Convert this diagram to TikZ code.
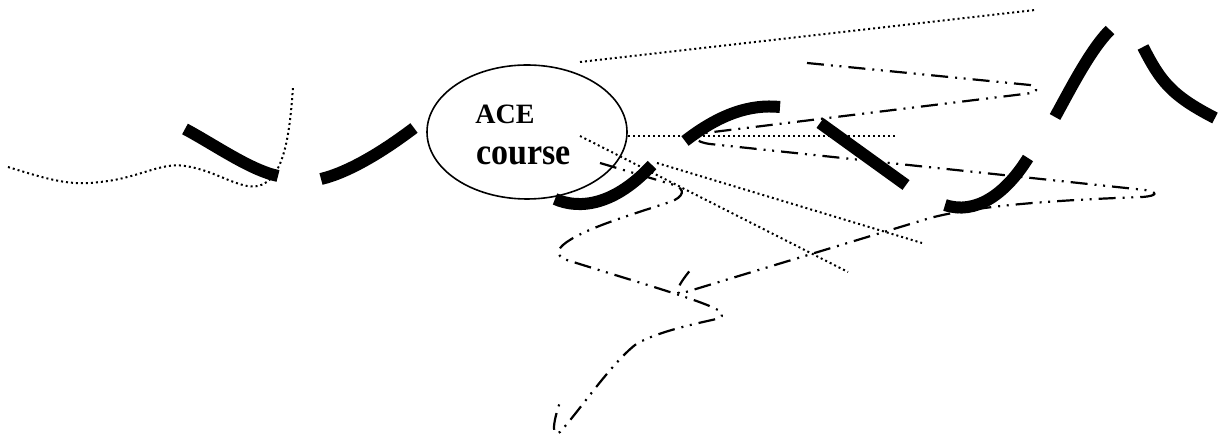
\documentclass[tikz,border=0pt]{standalone}
\usepackage{fontspec}
\newfontfamily\acefont{Liberation Serif}
\usepackage{tikz}
\usetikzlibrary{shapes.geometric}

\begin{document}
\begin{tikzpicture}[x=0.5pt, y=-0.5pt,
    barline/.style={line width=6pt},
    dotline/.style={line width=1pt, dash pattern=on 1pt off 1.5pt},
    dddline/.style={line width=1.1pt, dash pattern=on 8.5pt off 3.5pt on 1pt off 3.3pt on 1pt off 3.5pt}]
    \useasboundingbox (0,0) rectangle (1221,437);

    \node[draw, ellipse, line width=0.8pt, minimum width=100pt, minimum height=67pt, inner sep=0pt] (ace) at (527,132) {};
    \node[anchor=base west, inner sep=0pt, font=\acefont\bfseries\fontsize{14}{15}\selectfont] (acename) at (475,124) {ACE};
    \node[anchor=base west, inner sep=0pt, font=\acefont\bfseries\fontsize{17}{18}\selectfont] (acecourse) at (476,165) {\scalebox{1}[1.1]{course}};

    \draw[dotline] (8,167) .. controls (50,180) and (70,186) .. (100,182) .. controls (140,178) and (160,162) .. (185,166) .. controls (215,170) and (240,190) .. (258,186) .. controls (285,180) and (290,130) .. (293,87);
    \draw[dotline] (580,62) -- (1035,10);
    \draw[dotline] (628,136) -- (898,136);
    \draw[dotline] (580,136) -- (848,272);
    \draw[dotline] (657,163) -- (922,243);

    \draw[dddline] (807,63) -- (1030,85) .. controls (1042,88) and (1036,93) .. (1024,94) -- (705,133) .. controls (690,136) and (695,142) .. (710,144) -- (1145,190) .. controls (1158,192) and (1158,196) .. (1142,197) .. controls (1060,200) and (980,205) .. (930,218) -- (686,292) .. controls (676,296) and (672,292) .. (692,268);
    \draw[dddline] (600,163) -- (674,185) .. controls (686,189) and (684,197) .. (670,202) .. controls (630,215) and (580,230) .. (563,245) .. controls (555,252) and (558,258) .. (570,261) .. controls (640,283) and (700,300) .. (718,310) .. controls (726,315) and (722,318) .. (712,320) .. controls (680,327) and (650,335) .. (635,345) .. controls (610,365) and (580,410) .. (560,432) .. controls (552,438) and (552,425) .. (560,402);

    \draw[barline] (185,129) .. controls (215,145) and (250,170) .. (278,176);
    \draw[barline] (321,179) .. controls (350,172) and (385,150) .. (414,128);
    \draw[barline] (555,199) .. controls (580,210) and (615,205) .. (652,165);
    \draw[barline] (685,141) .. controls (720,114) and (750,104) .. (780,107);
    \draw[barline] (820,123) -- (906,185);
    \draw[barline] (945,205) .. controls (975,215) and (1005,195) .. (1028,158);
    \draw[barline] (1055,117) .. controls (1070,90) and (1090,50) .. (1110,30);
    \draw[barline] (1143,47) .. controls (1160,80) and (1170,95) .. (1215,118);
\end{tikzpicture}
\end{document}
